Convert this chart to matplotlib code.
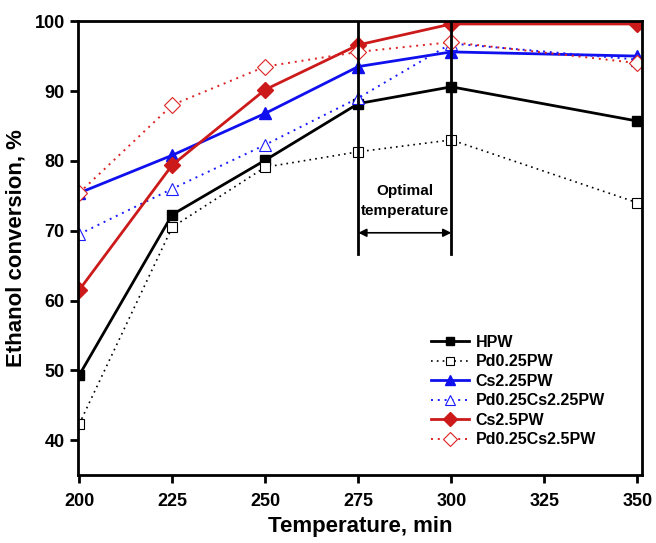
import matplotlib.pyplot as plt

plt.rcParams['font.family'] = ['Liberation Sans', 'DejaVu Sans']
plt.rcParams['font.weight'] = 'bold'

temps = [200, 225, 250, 275, 300, 350]
hpw = [49.3, 72.3, 80.1, 88.2, 90.6, 85.7]
pd_pw = [42.3, 70.5, 79.1, 81.3, 83.0, 74.0]
cs225 = [75.4, 80.8, 86.8, 93.5, 95.6, 95.0]
pd_cs225 = [69.5, 76.0, 82.3, 89.0, 96.8, 94.5]
cs25 = [61.5, 79.4, 90.2, 96.6, 99.6, 99.6]
pd_cs25 = [75.4, 88.0, 93.5, 95.6, 97.0, 94.0]

labels = ['HPW', 'Pd0.25PW', 'Cs2.25PW', 'Pd0.25Cs2.25PW', 'Cs2.5PW', 'Pd0.25Cs2.5PW']
opt_range = [275, 300]

fig = plt.figure(figsize=(6.56, 5.43), dpi=100)
ax = fig.add_axes([0.119, 0.125, 0.860, 0.836])

dots = (0, (1, 2.5))
ax.plot(temps, hpw, '-', color='black', lw=2, marker='s', ms=7, label=labels[0])
ax.plot(temps, pd_pw, ls=dots, color='black', lw=1.2, marker='s', ms=7, mfc='white', mew=0.8, label=labels[1])
ax.plot(temps, cs225, '-', color='#1010ee', lw=2, marker='^', ms=9, label=labels[2])
ax.plot(temps, pd_cs225, ls=dots, color='#1a1aff', lw=1.4, marker='^', ms=9, mfc='white', mew=0.8, label=labels[3])
ax.plot(temps, cs25, '-', color='#cc1a1a', lw=2, marker='D', ms=8, label=labels[4])
ax.plot(temps, pd_cs25, ls=dots, color='#dd2222', lw=1.4, marker='D', ms=8, mfc='white', mew=0.8, label=labels[5])

# optimal temperature window
for t in opt_range:
    ax.plot([t, t], [100, 66.7], color='black', lw=2)
ax.annotate('', xy=(opt_range[0], 69.7), xytext=(opt_range[1], 69.7),
            arrowprops=dict(arrowstyle='<|-|>', color='black', lw=1.2,
                            shrinkA=0, shrinkB=0, mutation_scale=12))
ax.text(sum(opt_range) / 2, 71.8, 'Optimal\ntemperature', ha='center', va='bottom',
        fontsize=11, fontweight='bold', linespacing=1.6)

ax.set_xlim(199.7, 351.3)
ax.set_ylim(35, 100)
ax.set_xticks(range(200, 351, 25))
ax.set_yticks(range(40, 101, 10))
ax.tick_params(direction='out', length=6, width=2, labelsize=13)
ax.tick_params(axis='x', pad=7)
for s in ax.spines.values():
    s.set_linewidth(2)

ax.set_xlabel('Temperature, min', fontsize=16, fontweight='bold', labelpad=4)
ax.set_ylabel('Ethanol conversion, %', fontsize=16, fontweight='bold', labelpad=6)

ax.legend(loc='lower left', bbox_to_anchor=(0.6, 0.03), frameon=False, fontsize=11.5,
          handlelength=2.4, labelspacing=0.28, handletextpad=0.4, markerscale=0.85)

fig.savefig('out.png', dpi=100)
